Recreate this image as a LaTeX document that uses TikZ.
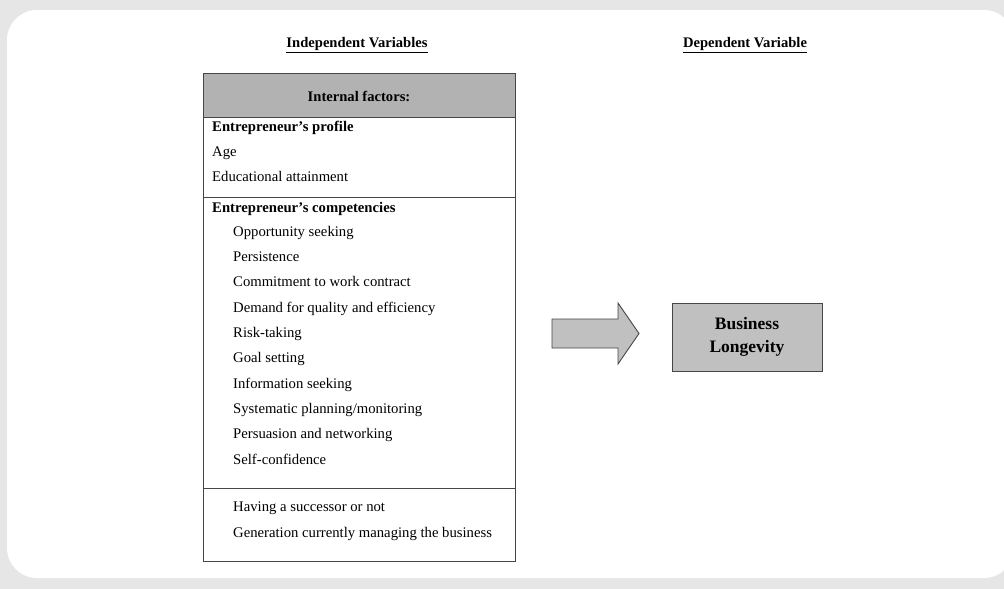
\documentclass[tikz,border=0pt]{standalone}
\usepackage{fontspec}
\setmainfont{Liberation Serif}
\definecolor{framegray}{RGB}{230,230,230}
\definecolor{headgray}{RGB}{178,178,178}
\definecolor{boxgray}{RGB}{192,192,192}
\definecolor{linegray}{RGB}{70,70,70}
\begin{document}
\begin{tikzpicture}[x=1pt, y=-1pt,
    item/.style={anchor=mid west, inner sep=0pt, font=\fontsize{14.7}{17}\selectfont},
    bolditem/.style={item, font=\fontsize{14.7}{17}\selectfont\bfseries},
    title/.style={inner sep=0pt, font=\fontsize{14.6}{17}\selectfont\bfseries},
    frame/.style={draw=linegray, line width=0.9pt}]
    \useasboundingbox (0,0) rectangle (1004,589);
    \fill[framegray] (0,0) rectangle (1004,589);
    \begin{scope}
      \clip (0,0) rectangle (1004,589);
      \fill[white, rounded corners=30pt] (7,10) rectangle (1014,578);
    \end{scope}

    \node[title] (indep) at (357,45) {\underline{Independent Variables}};
    \node[title] (dep) at (745,45) {\underline{Dependent Variable}};

    \coordinate (TL) at (203,73);
    \coordinate (BR) at (515,561);
    \fill[headgray] (TL) rectangle (515,117);
    \draw[frame] (TL) rectangle (BR);
    \draw[frame] (203,117) -- (515,117);
    \draw[frame] (203,197) -- (515,197);
    \draw[frame] (203,488) -- (515,488);
    \node[title] (internal) at (359,96) {Internal factors:};

    \node[bolditem] (profile) at (212,129) {Entrepreneur’s profile};
    \node[item] (age) at (212,154) {Age};
    \node[item] (educ) at (212,179) {Educational attainment};

    \node[bolditem] (comp) at (212,210) {Entrepreneur’s competencies};
    \foreach \txt [count=\i from 0] in {Opportunity seeking, Persistence,
        Commitment to work contract, Demand for quality and efficiency,
        Risk-taking, Goal setting, Information seeking,
        Systematic planning/monitoring, Persuasion and networking,
        Self-confidence}
      \node[item] (c\i) at (233,234+25.3*\i) {\txt};

    \node[item] (succ) at (233,509) {Having a successor or not};
    \node[item] (gen) at (233,535) {Generation currently managing the business};

    \draw[frame, fill=boxgray, line join=miter]
      (552,319) -- (618,319) -- (618,303) -- (639,333.5)
      -- (618,364) -- (618,348) -- (552,348) -- cycle;

    \node[frame, fill=boxgray, minimum width=150pt, minimum height=68pt,
      align=center, font=\fontsize{17.5}{23}\selectfont\bfseries]
      (longevity) at (747,337) {Business\\Longevity};
\end{tikzpicture}
\end{document}
